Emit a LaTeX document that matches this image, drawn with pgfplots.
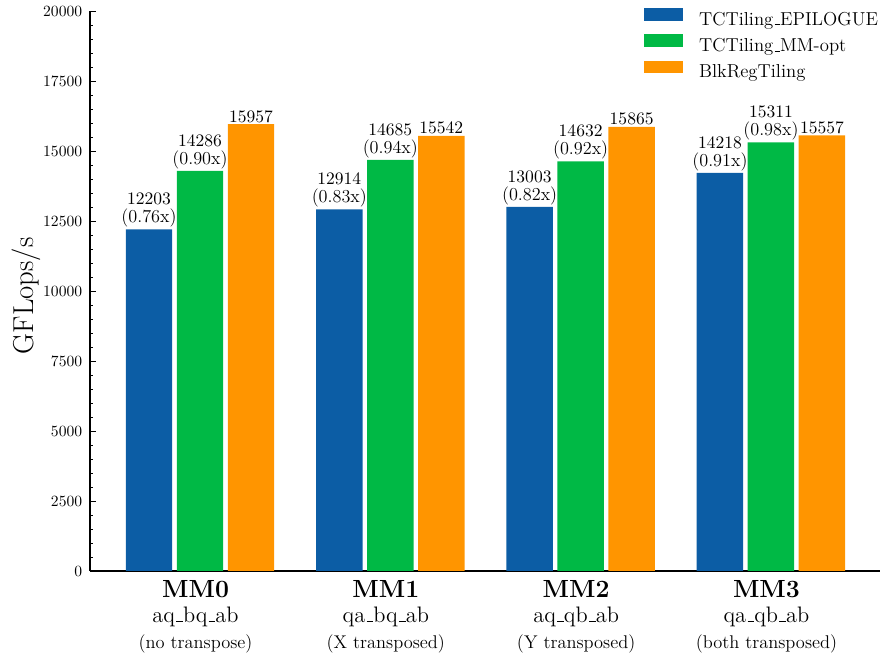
\documentclass[border=0pt]{standalone}
\usepackage{pgfplots}
\usepackage{pgfplotstable}
\pgfplotsset{compat=1.18}
\definecolor{cblue}{HTML}{0C5DA5}
\definecolor{cgreen}{HTML}{00B945}
\definecolor{corange}{HTML}{FF9500}
\newcommand{\us}{\leavevmode\kern.06em\vbox{\hrule height 0.6pt width.3em}}
\newcommand{\xl}[3]{{\fontsize{15.5}{15.3}\selectfont\bfseries #1}\\{\fontsize{14}{15.3}\selectfont #2}\\[1.3pt]{\fontsize{11.5}{15.3}\selectfont #3}}

\pgfplotstableread{
x y r
-0.268 12203 (0.76x)
0.732 12914 (0.83x)
1.732 13003 (0.82x)
2.732 14218 (0.91x)
}\tblA
\pgfplotstableread{
x y r
0 14286 (0.90x)
1 14685 (0.94x)
2 14632 (0.92x)
3 15311 (0.98x)
}\tblB
\pgfplotstableread{
x y
0.268 15957
1.268 15542
2.268 15865
3.268 15557
}\tblC

\begin{document}
\begin{tikzpicture}
\begin{axis}[
  at={(0,0)}, anchor=south west,
  scale only axis,
  width=493.75pt, height=350pt,
  xmin=-0.578, xmax=3.573,
  ymin=0, ymax=20000,
  enlargelimits=false,
  axis x line*=bottom, axis y line*=left,
  axis line style={black, line width=0.75pt, -},
  tick align=inside,
  xtick={0,1,2,3},
  xticklabels={
    {\xl{MM0}{aq\us bq\us ab}{(no transpose)}},
    {\xl{MM1}{qa\us bq\us ab}{(X transposed)}},
    {\xl{MM2}{aq\us qb\us ab}{(Y transposed)}},
    {\xl{MM3}{qa\us qb\us ab}{(both transposed)}}},
  xtick style={draw=none},
  xticklabel style={align=center, anchor=north, inner sep=0pt, yshift=-6pt, xshift=-2.8pt, font=\fontsize{11.5}{15.3}\selectfont},
  ytick={0,2500,...,20000},
  minor y tick num=4,
  scaled y ticks=false,
  yticklabel style={/pgf/number format/.cd, fixed, 1000 sep={}, assume math mode=true, /tikz/.cd, font=\fontsize{9.75}{11}\selectfont, inner sep=0pt, xshift=-4.7pt},
  major tick length=3.6pt,
  minor tick length=1.9pt,
  y tick style={black, line width=0.6pt},
  ylabel={GFLops/s},
  ylabel style={at={(rel axis cs:0,0.5)}, anchor=center, yshift=40pt, xshift=-3pt, font=\fontsize{18}{20}\selectfont},
  legend style={at={(rel axis cs:1,1)}, anchor=north east, xshift=-1.25pt, yshift=1.85pt,
    draw=none, fill=none, inner sep=0pt, outer sep=0pt, row sep=3.55pt, column sep=10pt,
    nodes={inner sep=0pt, text height=8pt, text depth=2.3pt, font=\fontsize{11.7}{13}\selectfont}},
  legend cell align=left,
  legend image code/.code={\fill[#1, draw=none] (0pt,0pt) rectangle (24.4pt,7.8pt);},
  every node near coord/.append style={font=\fontsize{11.4}{11.25}\selectfont, align=center, inner sep=1pt, text=black},
]
\addplot[ybar, bar width=0.244, bar shift=0pt, fill=cblue, draw=none,
  point meta=explicit symbolic,
  nodes near coords={\pgfmathprintnumber[fixed, precision=0, 1000 sep={}]{\pgfkeysvalueof{/data point/y}}\\\pgfplotspointmeta}]
  table[x=x, y=y, meta=r] {\tblA};
\addlegendentry{TCTiling\us EPILOGUE}
\addplot[ybar, bar width=0.244, bar shift=0pt, fill=cgreen, draw=none,
  point meta=explicit symbolic,
  nodes near coords={\pgfmathprintnumber[fixed, precision=0, 1000 sep={}]{\pgfkeysvalueof{/data point/y}}\\\pgfplotspointmeta}]
  table[x=x, y=y, meta=r] {\tblB};
\addlegendentry{TCTiling\us MM-opt}
\addplot[ybar, bar width=0.244, bar shift=0pt, fill=corange, draw=none,
  point meta=y,
  nodes near coords={\pgfmathprintnumber[fixed, precision=0, 1000 sep={}]{\pgfplotspointmeta}}]
  table[x=x, y=y] {\tblC};
\addlegendentry{BlkRegTiling}
\end{axis}
\pgfresetboundingbox
\useasboundingbox (-56.25pt,-53.75pt) rectangle (493.75pt,356.875pt);
\end{tikzpicture}
\end{document}
